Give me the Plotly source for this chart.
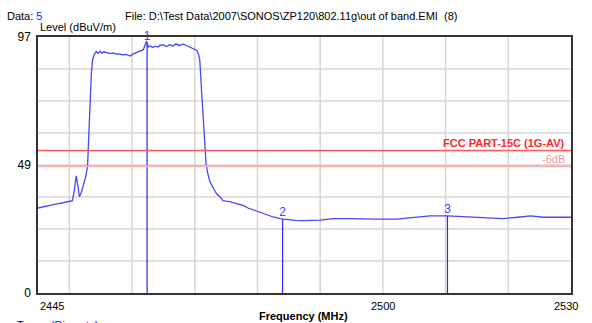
import plotly.graph_objects as go

# ---- data ----
freq = [2445.0, 2446.0, 2447.0, 2448.0, 2449.0, 2450.0, 2450.5, 2450.8, 2451.1, 2451.4,
        2451.6, 2451.9, 2452.2, 2452.6, 2452.9, 2453.1, 2453.3, 2453.5, 2453.7, 2454.0,
        2454.3, 2454.6, 2454.9, 2455.2, 2455.5, 2456.0, 2456.5, 2457.0, 2457.5, 2458.0,
        2458.5, 2459.0, 2459.7, 2460.2, 2460.8, 2461.3, 2461.8, 2462.3, 2462.6, 2462.9,
        2463.3, 2463.7, 2464.1, 2464.5, 2465.0, 2465.5, 2466.0, 2466.5, 2467.0, 2467.5,
        2468.2, 2468.8, 2469.3, 2469.8, 2470.3, 2470.6, 2470.8, 2471.1, 2471.4, 2471.6,
        2471.8, 2472.1, 2472.4, 2473.0, 2473.5, 2474.0, 2474.5, 2475.0, 2475.6, 2476.5,
        2477.2, 2477.7, 2478.5, 2479.3, 2480.4, 2481.5, 2482.5, 2483.6, 2484.0, 2485.0,
        2486.0, 2487.3, 2488.5, 2490.0, 2491.0, 2492.1, 2494.8, 2497.0, 2499.0, 2502.2,
        2504.0, 2506.0, 2507.5, 2510.3, 2512.0, 2514.0, 2516.0, 2519.2, 2521.5, 2523.5,
        2525.6, 2530.0]
level = [32.2, 32.8, 33.3, 33.8, 34.2, 34.6, 35.0, 39.0, 44.4, 40.0,
         36.5, 38.0, 40.3, 44.0, 47.9, 60.0, 74.4, 83.0, 88.3, 90.5,
         91.5, 90.8, 91.6, 90.9, 91.4, 91.1, 90.7, 91.0, 90.5, 90.6,
         90.2, 90.4, 89.8, 90.6, 91.2, 91.5, 92.2, 95.5, 93.2, 93.6,
         93.0, 93.5, 93.2, 93.9, 94.0, 93.4, 94.1, 93.6, 94.4, 93.8,
         94.3, 93.6, 93.0, 92.6, 92.0, 90.5, 88.3, 76.0, 64.4, 56.0,
         49.2, 45.0, 42.2, 39.5, 37.5, 36.5, 35.0, 34.8, 34.6, 34.0,
         33.5, 33.2, 32.2, 31.5, 30.8, 29.6, 28.8, 28.2, 28.0, 27.8,
         27.5, 27.4, 27.4, 27.6, 27.9, 28.2, 28.2, 28.0, 28.0, 28.0,
         28.4, 28.8, 29.2, 29.2, 29.0, 28.6, 28.4, 28.2, 28.7, 29.2,
         28.7, 28.7]

marker_ids = ["1", "2", "3"]
marker_freq = [2462.4, 2484.0, 2510.3]
marker_level = [94.8, 28.0, 29.2]

limit_name = "FCC PART-15C (1G-AV)"
limit_level = 54
margin_name = "-6dB"
margin_level = 48

x_range = [2445, 2530]
y_range = [0, 97]
x_grid = [2450, 2460, 2470, 2480, 2490, 2500, 2510, 2520]
y_grid = [97 * k / 8 for k in range(1, 8)]
x_ticks = [2445, 2500, 2530]
y_ticks = [0, 48.5, 97]
y_ticktext = ["0", "49", "97"]

FONT = "Liberation Sans, Arial, sans-serif"
FS = 11
L, R, T, B = 38, 571, 37, 293
W, H = R - L, B - T

def px(xp):
    return (xp - L) / W

def py(yp):
    return (B - yp) / H

fig = go.Figure()

# grid
shapes = []
for g in x_grid:
    shapes.append(dict(type="line", xref="x", yref="paper", x0=g, x1=g, y0=0, y1=1,
                       line=dict(color="#d6d6d6", width=1.5), layer="below"))
for g in y_grid:
    shapes.append(dict(type="line", xref="paper", yref="y", x0=0, x1=1, y0=g, y1=g,
                       line=dict(color="#d6d6d6", width=1.5), layer="below"))
# limit lines
shapes.append(dict(type="line", xref="paper", yref="y", x0=0, x1=1, y0=limit_level, y1=limit_level,
                   line=dict(color="#ff5a5a", width=1.5)))
shapes.append(dict(type="line", xref="paper", yref="y", x0=0, x1=1, y0=margin_level, y1=margin_level,
                   line=dict(color="#f4b0b0", width=2)))

fig.add_trace(go.Scatter(x=freq, y=level, mode="lines",
                         line=dict(color="#4646ff", width=1.3), showlegend=False, hoverinfo="skip"))

# marker lines
mx, my = [], []
for f, v in zip(marker_freq, marker_level):
    mx += [f, f, None]
    my += [v, 0, None]
fig.add_trace(go.Scatter(x=mx, y=my, mode="lines", line=dict(color="#2828ff", width=1.2),
                         showlegend=False, hoverinfo="skip"))
fig.add_trace(go.Scatter(x=marker_freq, y=marker_level, mode="text", text=marker_ids,
                         textposition="top center",
                         textfont=dict(family=FONT, size=12, color="#4040ff"),
                         showlegend=False, hoverinfo="skip", cliponaxis=False))

ann = []
ann.append(dict(text="Data: <span style='color:#2020ff'>5</span>", x=px(5), y=py(16),
                xanchor="left", yanchor="middle"))
ann.append(dict(text="File: D:\\Test Data\\2007\\SONOS\\ZP120\\802.11g\\out of band.EMI&nbsp;&nbsp;(8)",
                x=px(123), y=py(16), xanchor="left", yanchor="middle"))
ann.append(dict(text="Level (dBuV/m)", x=px(38), y=py(27), xanchor="left", yanchor="middle"))
ann.append(dict(text="<b>Frequency (MHz)</b>", x=px(303), y=py(316), xanchor="center", yanchor="middle"))
ann.append(dict(text="Trace: <span style='color:#2020ff'>(Discrete)</span>", x=px(15), y=py(325),
                xanchor="left", yanchor="middle"))
ann.append(dict(text="<b>" + limit_name + "</b>", x=px(567), y=py(143), xanchor="right",
                yanchor="middle", font=dict(family=FONT, size=FS, color="#ff2a2a")))
ann.append(dict(text=margin_name, x=px(567), y=py(159), xanchor="right",
                yanchor="middle", font=dict(family=FONT, size=FS, color="#f59a9a")))
# x tick labels
x_anchor = ["left", "center", "center"]
x_shift = [0, 0, -5]
for v, a, s in zip(x_ticks, x_anchor, x_shift):
    ann.append(dict(text=str(v), x=v, xref="x", y=py(306), xanchor=a, yanchor="middle", xshift=s))

for a in ann:
    a.setdefault("xref", "paper")
    a.setdefault("yref", "paper")
    a.setdefault("font", dict(family=FONT, size=FS, color="#000000"))
    a["showarrow"] = False

fig.update_layout(
    width=592, height=323,
    margin=dict(l=L, r=592 - R, t=T, b=323 - B, pad=0),
    paper_bgcolor="white", plot_bgcolor="white",
    font=dict(family=FONT, size=FS, color="black"),
    shapes=shapes, annotations=ann,
    xaxis=dict(range=x_range, showgrid=False, zeroline=False, showticklabels=False, ticks="",
               showline=True, mirror=True, linecolor="#333333", linewidth=1.5, fixedrange=True),
    yaxis=dict(range=y_range, showgrid=False, zeroline=False, tickvals=y_ticks, ticktext=y_ticktext,
               ticks="", ticklabelstandoff=3,
               tickfont=dict(family=FONT, size=12, color="black"),
               showline=True, mirror=True, linecolor="#333333", linewidth=1.5, fixedrange=True),
)

fig.write_html("out.html", config={"displayModeBar": False},
               post_script="document.body.style.margin='0';document.body.style.padding='0';")
